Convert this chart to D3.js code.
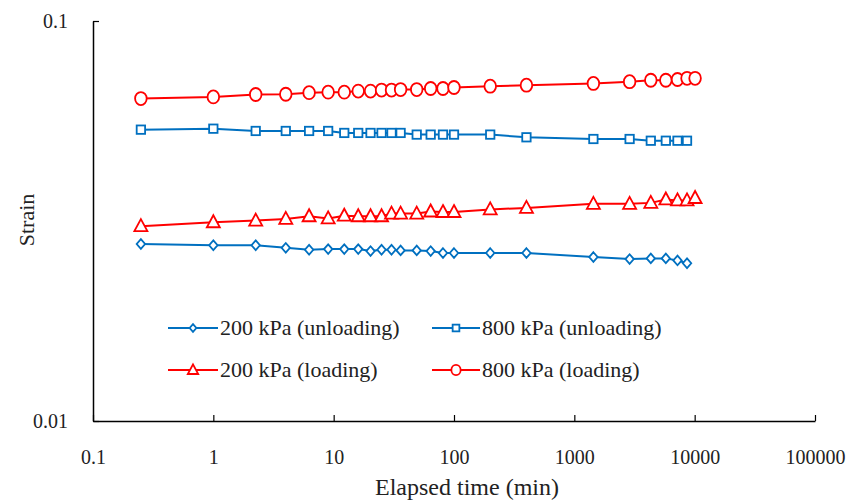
<!DOCTYPE html>
<html>
<head>
<meta charset="utf-8">
<script src="https://cdn.jsdelivr.net/npm/d3@7"></script>
<style>
  html, body { margin: 0; padding: 0; background: #fff; }
  svg { display: block; }
  svg text { font-family: "Liberation Serif", "Times New Roman", Times, "DejaVu Serif", serif !important; fill: #222; }
</style>
</head>
<body>
<svg id="chart" width="862" height="501"></svg>
<script>
// ---- Data ----
const timesFull = [0.25, 1, 2.25, 4, 6.25, 9, 12.25, 16, 20.25, 25, 30.25, 36, 49, 64, 81, 100, 200, 400, 1440, 2880, 4320, 5760, 7200, 8640, 10080];
const timesUnload = timesFull.slice(0, 24);

const strain200Unloading = [0.0277, 0.0275, 0.0275, 0.0271, 0.0268, 0.0269, 0.0269, 0.0269, 0.0266, 0.0268, 0.0268, 0.0267, 0.0267, 0.0266, 0.0263, 0.0263, 0.0263, 0.0263, 0.0257, 0.0254, 0.0255, 0.0255, 0.0252, 0.0248];
const strain800Unloading = [0.0535, 0.0538, 0.0531, 0.0531, 0.0531, 0.0531, 0.0525, 0.0525, 0.0525, 0.0525, 0.0525, 0.0525, 0.0520, 0.0520, 0.0520, 0.0520, 0.0520, 0.0512, 0.0507, 0.0507, 0.0502, 0.0502, 0.0502, 0.0502];
const strain200Loading = [0.0307, 0.0314, 0.0317, 0.0320, 0.0325, 0.0321, 0.0326, 0.0325, 0.0325, 0.0325, 0.0330, 0.0330, 0.0330, 0.0334, 0.0333, 0.0333, 0.0338, 0.0341, 0.0349, 0.0349, 0.0351, 0.0358, 0.0356, 0.0356, 0.0361];
const strain800Loading = [0.0640, 0.0646, 0.0655, 0.0656, 0.0662, 0.0664, 0.0664, 0.0668, 0.0668, 0.0672, 0.0672, 0.0674, 0.0674, 0.0678, 0.0678, 0.0682, 0.0687, 0.0691, 0.0698, 0.0705, 0.0711, 0.0711, 0.0714, 0.0719, 0.0719];

const seriesNames = ["200 kPa (unloading)", "800 kPa (unloading)", "200 kPa (loading)", "800 kPa (loading)"];
const xTickValues = [0.1, 1, 10, 100, 1000, 10000, 100000];
const xTickLabels = ["0.1", "1", "10", "100", "1000", "10000", "100000"];
const yTickValues = [0.01, 0.1];
const yTickLabels = ["0.01", "0.1"];
const xTitle = "Elapsed time (min)";
const yTitle = "Strain";

// ---- Layout ----
const BLUE = "#0070C0", RED = "#FF0000";
const FONT = "'Liberation Serif', 'Times New Roman', Times, 'DejaVu Serif', serif";
const margin = { left: 93, top: 21, right: 47, bottom: 80 };
const W = 862, H = 501;

const svg = d3.select("#chart");
const x = d3.scaleLog().domain([0.1, 100000]).range([margin.left, W - margin.right]);
const y = d3.scaleLog().domain([0.01, 0.1]).range([H - margin.bottom, margin.top]);

const series = [
  { name: seriesNames[0], t: timesUnload, v: strain200Unloading, color: BLUE, shape: "diamond" },
  { name: seriesNames[1], t: timesUnload, v: strain800Unloading, color: BLUE, shape: "square" },
  { name: seriesNames[2], t: timesFull, v: strain200Loading, color: RED, shape: "triangle" },
  { name: seriesNames[3], t: timesFull, v: strain800Loading, color: RED, shape: "circle" }
];

function drawMarker(g, shape, color, cx, cy, k) {
  k = k || 1;
  const common = s => s.attr("fill", "#fff").attr("stroke", color).attr("stroke-width", 1.8);
  if (shape === "circle") {
    g.append("ellipse").attr("cx", cx).attr("cy", cy).attr("rx", 5.8 * k).attr("ry", 6.5 * k).call(common);
  } else if (shape === "square") {
    g.append("rect").attr("x", cx - 4.2 * k).attr("y", cy - 4.2 * k).attr("width", 8.4 * k).attr("height", 8.4 * k).call(common);
  } else if (shape === "diamond") {
    g.append("path").attr("d", `M${cx},${cy - 4.8 * k}L${cx + 4.2 * k},${cy}L${cx},${cy + 4.8 * k}L${cx - 4.2 * k},${cy}Z`).call(common);
  } else if (shape === "triangle") {
    g.append("path").attr("d", `M${cx},${cy - 7 * k}L${cx + 6.5 * k},${cy + 5 * k}L${cx - 6.5 * k},${cy + 5 * k}Z`).call(common);
  }
}

// ---- Axes ----
const xAxis = d3.axisBottom(x).tickValues(xTickValues)
  .tickFormat((d, i) => xTickLabels[i]).tickSizeInner(-6).tickSizeOuter(0).tickPadding(29);
const gx = svg.append("g").attr("transform", `translate(0,${H - margin.bottom})`).call(xAxis)
  .attr("font-family", FONT);
gx.select(".domain").attr("stroke", "#000").attr("stroke-width", 1.5);
gx.selectAll(".tick line").attr("stroke", "#000").attr("stroke-width", 1.2);
gx.selectAll(".tick text").attr("font-size", 20).attr("fill", "#222");

const yAxis = d3.axisLeft(y).tickValues(yTickValues)
  .tickFormat((d, i) => yTickLabels[i]).tickSizeInner(-6).tickSizeOuter(0).tickPadding(25);
const gy = svg.append("g").attr("transform", `translate(${margin.left},0)`).call(yAxis)
  .attr("font-family", FONT);
gy.select(".domain").attr("stroke", "#000").attr("stroke-width", 1.5);
gy.selectAll(".tick line").attr("stroke", "#000").attr("stroke-width", 1.2);
gy.selectAll(".tick text").attr("font-size", 20).attr("fill", "#222");

// ---- Series ----
const line = d3.line().x(d => x(d[0])).y(d => y(d[1]));
series.forEach(s => {
  const pts = s.t.map((t, i) => [t, s.v[i]]);
  svg.append("path").datum(pts).attr("d", line)
    .attr("fill", "none").attr("stroke", s.color).attr("stroke-width", 2);
  const g = svg.append("g");
  pts.forEach(p => drawMarker(g, s.shape, s.color, x(p[0]), y(p[1])));
});

// ---- Titles ----
svg.append("text").attr("x", 467).attr("y", 495).attr("text-anchor", "middle")
  .attr("font-family", FONT).attr("font-size", 24).text(xTitle);
svg.append("text").attr("transform", "translate(34,220) rotate(-90)").attr("text-anchor", "middle")
  .attr("font-family", FONT).attr("font-size", 22).text(yTitle);

// ---- Legend ----
const legendPos = [
  { lx: 168, ly: 328, w: 50 },
  { lx: 432, ly: 328, w: 48 },
  { lx: 168, ly: 370, w: 50 },
  { lx: 432, ly: 370, w: 48 }
];
const lg = svg.append("g");
series.forEach((s, i) => {
  const p = legendPos[i];
  lg.append("line").attr("x1", p.lx).attr("x2", p.lx + p.w).attr("y1", p.ly).attr("y2", p.ly)
    .attr("stroke", s.color).attr("stroke-width", 2);
  drawMarker(lg, s.shape, s.color, p.lx + p.w / 2, p.ly, 0.8);
  lg.append("text").attr("x", p.lx + p.w + 2).attr("y", p.ly + 7)
    .attr("font-family", FONT).attr("font-size", 22).text(s.name);
});
</script>
</body>
</html>
